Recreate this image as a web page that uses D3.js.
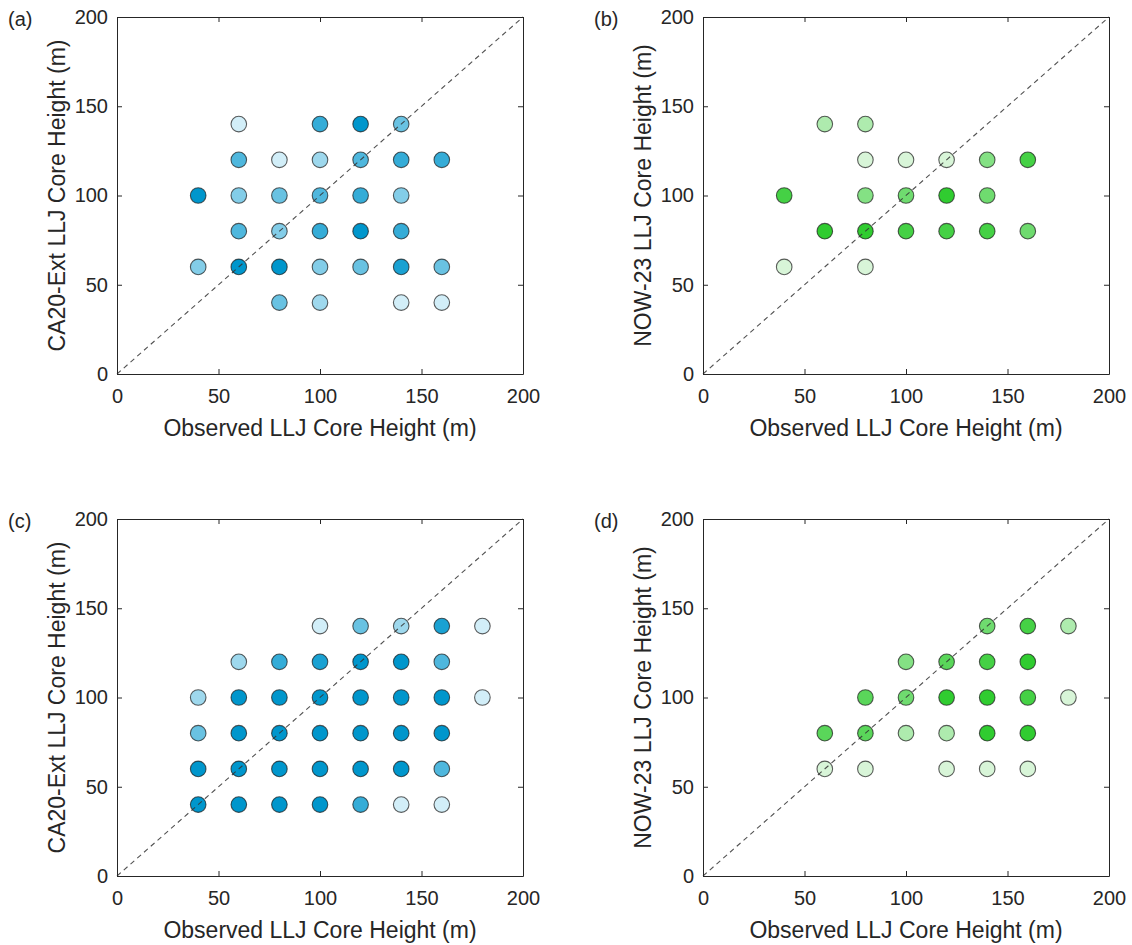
<!DOCTYPE html>
<html>
<head>
<meta charset="utf-8">
<script src="https://cdn.jsdelivr.net/npm/d3@7"></script>
<style>
  html, body { margin: 0; padding: 0; background: #fff; }
  svg { display: block; font-family: "Liberation Sans", Arial, sans-serif; }
</style>
</head>
<body>
<svg id="chart" width="1132" height="945"></svg>
<script>
// ---- data ----
const tickValues = [0, 50, 100, 150, 200];
const xLabel = "Observed LLJ Core Height (m)";
const yLabelCA = "CA20-Ext LLJ Core Height (m)";
const yLabelNOW = "NOW-23 LLJ Core Height (m)";
const panelTags = ["(a)", "(b)", "(c)", "(d)"];

// [observed, modelled, shade level (1 = lightest, 5 = darkest)]
const pointsA = [
  [60,140,1],[100,140,4],[120,140,5],[140,140,3],
  [60,120,3.5],[80,120,1],[100,120,2],[120,120,3.5],[140,120,4],[160,120,4],
  [40,100,5],[60,100,2.5],[80,100,3],[100,100,3.5],[120,100,4],[140,100,2.5],
  [60,80,3.5],[80,80,2.5],[100,80,4],[120,80,5],[140,80,4],
  [40,60,2.5],[60,60,5],[80,60,5],[100,60,2.5],[120,60,3],[140,60,4.5],[160,60,3],
  [80,40,3],[100,40,2],[140,40,1],[160,40,1]
];
const pointsB = [
  [60,140,2],[80,140,2],
  [80,120,1],[100,120,1],[120,120,1],[140,120,3],[160,120,4.5],
  [40,100,4.5],[80,100,3],[100,100,3.5],[120,100,5],[140,100,3.5],
  [60,80,5],[80,80,5],[100,80,4.5],[120,80,4.5],[140,80,4.5],[160,80,3.5],
  [40,60,1],[80,60,1]
];
const pointsC = [
  [100,140,1],[120,140,3],[140,140,2],[160,140,4.5],[180,140,1],
  [60,120,2],[80,120,4],[100,120,4.5],[120,120,5],[140,120,5],[160,120,3.5],
  [40,100,2],[60,100,5],[80,100,5],[100,100,5],[120,100,5],[140,100,5],[160,100,5],[180,100,1],
  [40,80,3],[60,80,5],[80,80,5],[100,80,5],[120,80,5],[140,80,5],[160,80,5],
  [40,60,5],[60,60,5],[80,60,5],[100,60,5],[120,60,5],[140,60,5],[160,60,3.5],
  [40,40,5],[60,40,5],[80,40,5],[100,40,5],[120,40,4],[140,40,1],[160,40,1]
];
const pointsD = [
  [140,140,3.5],[160,140,4.5],[180,140,2],
  [100,120,3],[120,120,4],[140,120,4.5],[160,120,5],
  [80,100,4],[100,100,3.5],[120,100,5],[140,100,5],[160,100,4.5],[180,100,1],
  [60,80,4],[80,80,4],[100,80,2],[120,80,2],[140,80,5],[160,80,5],
  [60,60,1],[80,60,1],[120,60,1],[140,60,1],[160,60,1]
];

const blueShade = d3.scaleLinear().domain([1, 5]).range(["#d2eef8", "#0096cc"]);
const greenShade = d3.scaleLinear().domain([1, 5]).range(["#d8f5d8", "#30cc30"]);

// ---- layout ----
const panels = [
  { tag: panelTags[0], pts: pointsA, color: blueShade,  ylab: yLabelCA,  left: 117, top: 17 },
  { tag: panelTags[1], pts: pointsB, color: greenShade, ylab: yLabelNOW, left: 703, top: 17 },
  { tag: panelTags[2], pts: pointsC, color: blueShade,  ylab: yLabelCA,  left: 117, top: 519 },
  { tag: panelTags[3], pts: pointsD, color: greenShade, ylab: yLabelNOW, left: 703, top: 519 }
];
const W = 406, H = 357;
const axisColor = "#262626";

const svg = d3.select("#chart");

panels.forEach(p => {
  const g = svg.append("g").attr("transform", `translate(${p.left},${p.top})`);
  const x = d3.scaleLinear().domain([0, 200]).range([0, W]);
  const y = d3.scaleLinear().domain([0, 200]).range([H, 0]);

  // points
  g.append("g").selectAll("circle").data(p.pts).join("circle")
    .attr("cx", d => x(d[0]))
    .attr("cy", d => y(d[1]))
    .attr("r", 7.8)
    .attr("fill", d => p.color(d[2]))
    .attr("stroke", "#1a1a1a")
    .attr("stroke-opacity", 0.7)
    .attr("stroke-width", 1.1);

  // 1:1 line
  g.append("line")
    .attr("x1", x(0)).attr("y1", y(0))
    .attr("x2", x(200)).attr("y2", y(200))
    .attr("stroke", "#333")
    .attr("stroke-opacity", 0.85)
    .attr("stroke-width", 1.1)
    .attr("stroke-dasharray", "5,4");

  // axes
  const fontSize = 20;
  const bottom = g.append("g").attr("transform", `translate(0,${H})`)
    .call(d3.axisBottom(x).tickValues(tickValues).tickSizeInner(-5).tickSizeOuter(0).tickPadding(15));
  const left = g.append("g")
    .call(d3.axisLeft(y).tickValues(tickValues).tickSizeInner(-5).tickSizeOuter(0).tickPadding(9));
  const top = g.append("g")
    .call(d3.axisTop(x).tickValues(tickValues).tickSizeInner(-5).tickSizeOuter(0).tickFormat(""));
  const right = g.append("g").attr("transform", `translate(${W},0)`)
    .call(d3.axisRight(y).tickValues(tickValues).tickSizeInner(-5).tickSizeOuter(0).tickFormat(""));
  [bottom, left, top, right].forEach(a => {
    a.select(".domain").attr("stroke", axisColor).attr("stroke-width", 1);
    a.selectAll(".tick line").attr("stroke", axisColor).attr("stroke-width", 1);
    a.selectAll(".tick text").attr("fill", axisColor).attr("font-size", fontSize)
      .attr("font-family", "'Liberation Sans', Arial, sans-serif");
  });

  // axis labels
  g.append("text")
    .attr("x", W / 2).attr("y", H + 62)
    .attr("text-anchor", "middle")
    .attr("font-size", 23).attr("fill", axisColor)
    .text(xLabel);
  g.append("text")
    .attr("transform", `translate(-60,${H / 2}) rotate(-90)`)
    .attr("text-anchor", "middle")
    .attr("dy", "0.35em")
    .attr("font-size", 23).attr("fill", axisColor)
    .text(p.ylab);

  // panel tag
  g.append("text")
    .attr("x", -109).attr("y", 9)
    .attr("font-size", 20).attr("fill", axisColor)
    .text(p.tag);
});
</script>
</body>
</html>
